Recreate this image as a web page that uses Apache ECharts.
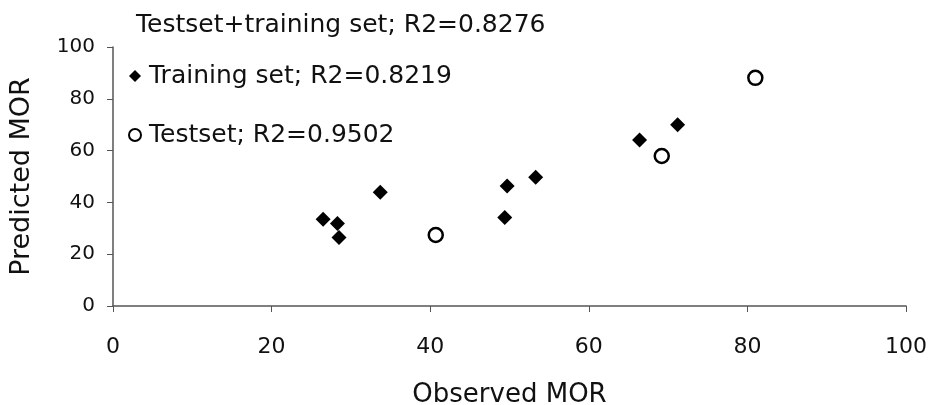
<!DOCTYPE html>
<html>
<head>
<meta charset="utf-8">
<script src="https://cdn.jsdelivr.net/npm/echarts@6/dist/echarts.min.js"></script>
<style>
  html, body { margin: 0; padding: 0; background: #fff; }
  #chart { width: 929px; height: 405px; }
</style>
</head>
<body>
<div id="chart"></div>
<script>
// observed vs predicted MOR
const trainObserved = [26.5, 28.3, 28.5, 33.7, 49.4, 49.7, 53.3, 66.4, 71.2]
const trainPredicted = [33.5, 31.9, 26.4, 43.9, 34.2, 46.3, 49.7, 64.1, 70.0]
const testObserved = [40.7, 69.2, 81.0]
const testPredicted = [27.4, 57.9, 88.1]
const xTicks = [0, 20, 40, 60, 80, 100]
const yTicks = [0, 20, 40, 60, 80, 100]

const trainName = 'Training set; R2=0.8219'
const testName = 'Testset; R2=0.9502'
const allName = 'Testset+training set; R2=0.8276'

const font = 'DejaVu Sans'
const pairs = (xs, ys) => xs.map((x, i) => [x, ys[i]])

const chart = echarts.init(document.getElementById('chart'))
chart.setOption({
  animation: false,
  backgroundColor: '#fff',
  title: {
    text: allName,
    left: 131,
    top: 8,
    textStyle: { fontFamily: font, fontSize: 25, fontWeight: 'normal', color: '#111' }
  },
  legend: {
    orient: 'vertical',
    left: 123,
    top: 58,
    itemWidth: 12,
    itemHeight: 12,
    itemGap: 33,
    data: [
      { name: trainName, icon: 'diamond' },
      { name: testName, icon: 'circle' }
    ],
    textStyle: { fontFamily: font, fontSize: 25, color: '#111', lineHeight: 26, padding: [0, 0, 0, 3] }
  },
  grid: { left: 113, right: 23, top: 47, bottom: 99, outerBoundsMode: 'none' },
  xAxis: {
    type: 'value',
    min: xTicks[0],
    max: xTicks[xTicks.length - 1],
    interval: 20,
    name: 'Observed MOR',
    nameLocation: 'middle',
    nameGap: 76,
    nameTextStyle: { fontFamily: font, fontSize: 26, color: '#111' },
    axisLine: { lineStyle: { color: '#555', width: 1.5 } },
    axisTick: { show: true, length: 6, lineStyle: { color: '#555' } },
    axisLabel: { fontFamily: font, fontSize: 22, color: '#111', margin: 30 },
    splitLine: { show: false }
  },
  yAxis: {
    type: 'value',
    min: yTicks[0],
    max: yTicks[yTicks.length - 1],
    interval: 20,
    name: 'Predicted MOR',
    nameLocation: 'middle',
    nameGap: 78,
    nameTextStyle: { fontFamily: font, fontSize: 27, color: '#111' },
    axisLine: { show: true, lineStyle: { color: '#555', width: 1.5 } },
    axisTick: { show: true, length: 6, lineStyle: { color: '#555' } },
    axisLabel: { fontFamily: font, fontSize: 20, color: '#111', margin: 18 },
    splitLine: { show: false }
  },
  series: [
    {
      name: trainName,
      type: 'scatter',
      symbol: 'diamond',
      symbolSize: 15,
      itemStyle: { color: '#000', opacity: 1 },
      data: pairs(trainObserved, trainPredicted)
    },
    {
      name: testName,
      type: 'scatter',
      symbol: 'circle',
      symbolSize: 14,
      itemStyle: { color: '#fff', borderColor: '#000', borderWidth: 2.5, opacity: 1 },
      data: pairs(testObserved, testPredicted)
    }
  ]
})
</script>
</body>
</html>
